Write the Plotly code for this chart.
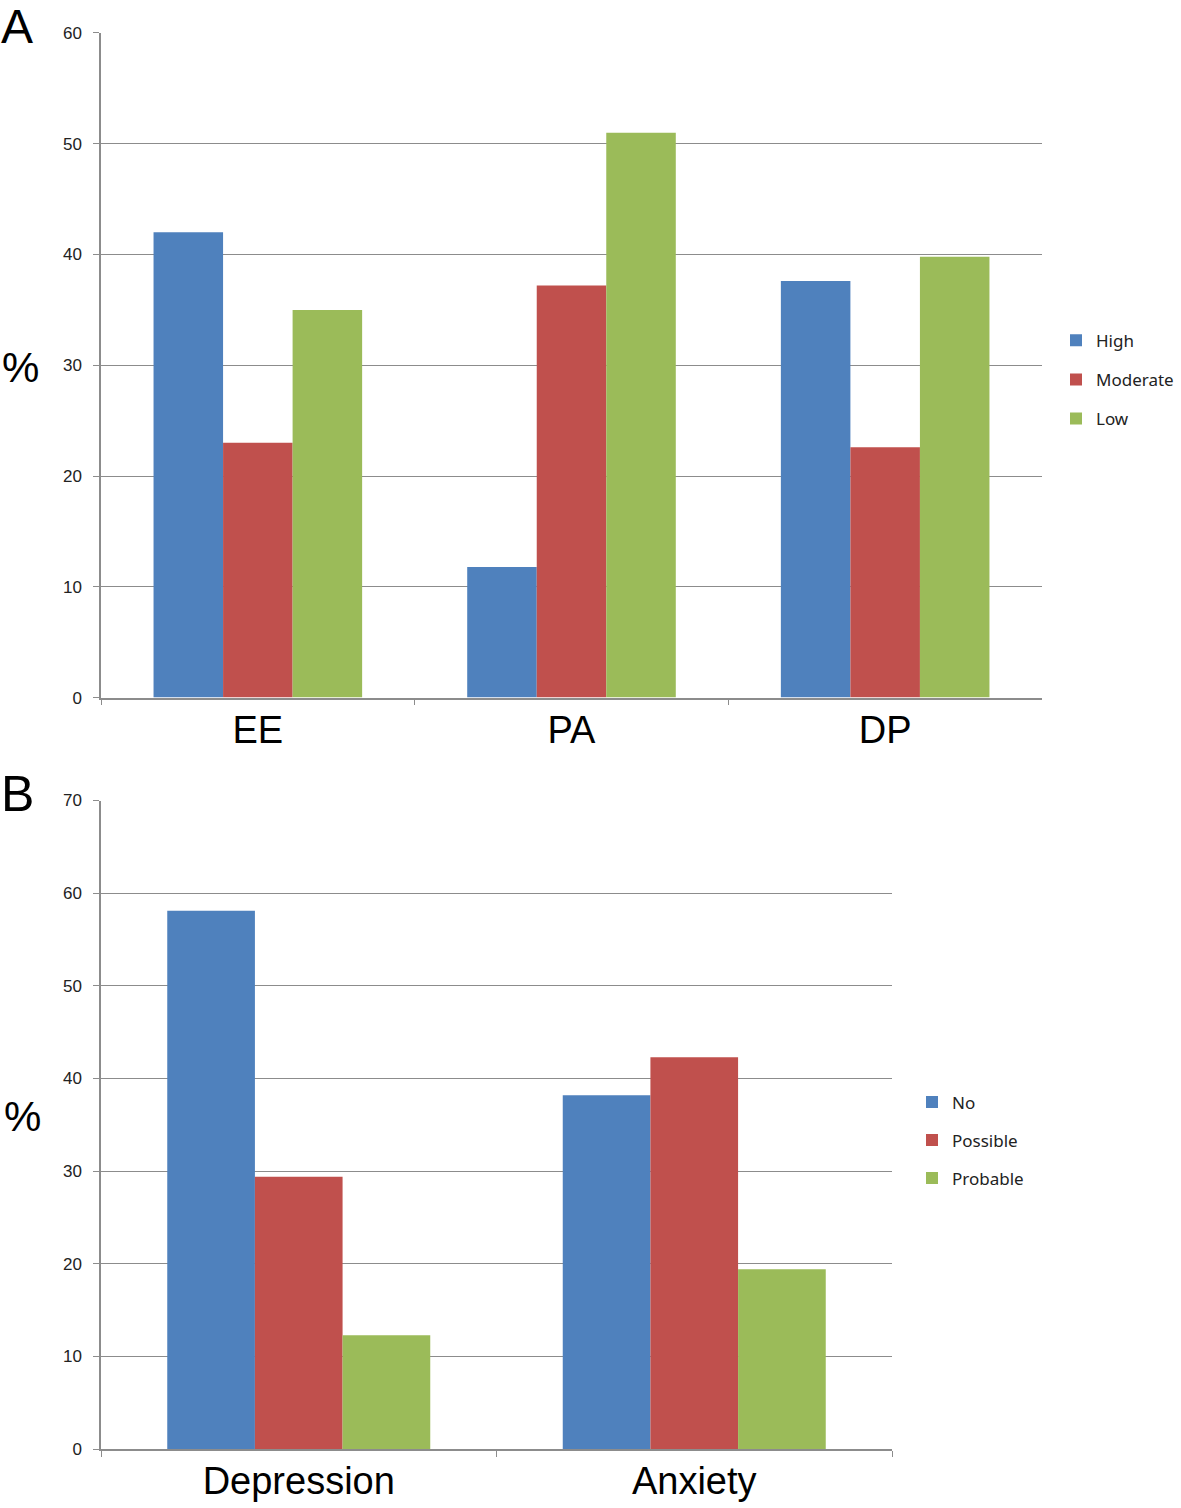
import plotly.graph_objects as go

# Panel A data
cats_a = ["EE", "PA", "DP"]
high = [42.0, 11.8, 37.6]
moderate = [23.0, 37.2, 22.6]
low = [35.0, 51.0, 39.8]
yticks_a = [0, 10, 20, 30, 40, 50, 60]

# Panel B data
cats_b = ["Depression", "Anxiety"]
no = [58.1, 38.2]
possible = [29.4, 42.3]
probable = [12.3, 19.4]
yticks_b = [0, 10, 20, 30, 40, 50, 60, 70]

BLUE = "#4F81BD"
RED = "#C0504D"
GREEN = "#9BBB59"
W, H = 1181, 1508

fig = go.Figure()
for name, vals, col in [("High", high, BLUE), ("Moderate", moderate, RED), ("Low", low, GREEN)]:
    fig.add_trace(go.Bar(x=cats_a, y=vals, name=name, marker=dict(color=col, line=dict(width=0)),
                         xaxis="x", yaxis="y", legend="legend", legendgroup=name))
for name, vals, col in [("No", no, BLUE), ("Possible", possible, RED), ("Probable", probable, GREEN)]:
    fig.add_trace(go.Bar(x=cats_b, y=vals, name=name, marker=dict(color=col, line=dict(width=0)),
                         xaxis="x2", yaxis="y2", legend="legend2", legendgroup=name))

def px_x(x):
    return x / W

def px_y(y):
    # compensate the observed vertical mapping of the capture
    f = (y - 9) / 0.988
    return 1 - f / H

grid = "#8C8C8C"
tickfont = dict(family="Liberation Sans, Arial", size=17, color="#222")
catfont = dict(family="Liberation Sans, Arial", size=38, color="#000")

common_x = dict(type="category", showline=True, linecolor=grid, linewidth=1.5, ticks="outside",
                tickson="boundaries", ticklen=6, tickcolor=grid, showgrid=False, tickfont=catfont,
                fixedrange=True)
common_y = dict(showline=True, linecolor=grid, linewidth=1.5, ticks="outside", ticklen=6,
                tickcolor=grid, showgrid=True, gridcolor=grid, gridwidth=1, tickfont=tickfont,
                zeroline=False, ticklabelstandoff=8, fixedrange=True)

legfont = dict(family="Noto Sans, Open Sans", size=17, color="#222")

fig.update_layout(
    width=W, height=H, margin=dict(l=0, r=0, t=0, b=0),
    paper_bgcolor="white", plot_bgcolor="white",
    bargap=0.335, bargroupgap=0, barmode="group",
    xaxis=dict(domain=[px_x(101), px_x(1042)], anchor="y", ticklabelstandoff=-2, **common_x),
    yaxis=dict(domain=[px_y(698), px_y(33)], anchor="x", range=[0, 60], tickvals=yticks_a, **common_y),
    xaxis2=dict(domain=[px_x(101), px_x(892)], anchor="y2", ticklabelstandoff=-2, **common_x),
    yaxis2=dict(domain=[px_y(1450), px_y(801)], anchor="x2", range=[0, 70], tickvals=yticks_b, **common_y),
    legend=dict(x=px_x(1056), y=px_y(323), xanchor="left", yanchor="top", font=legfont,
                tracegroupgap=14, itemwidth=30, bgcolor="rgba(0,0,0,0)"),
    legend2=dict(x=px_x(912), y=px_y(1085), xanchor="left", yanchor="top", font=legfont,
                 tracegroupgap=13, itemwidth=30, bgcolor="rgba(0,0,0,0)"),
    annotations=[
        dict(text="A", x=px_x(0), y=px_y(27), xref="paper", yref="paper", showarrow=False,
             xanchor="left", yanchor="middle", borderpad=0,
             font=dict(family="Liberation Sans, Arial", size=48, color="#000")),
        dict(text="B", x=px_x(0), y=px_y(794), xref="paper", yref="paper", showarrow=False,
             xanchor="left", yanchor="middle", borderpad=0,
             font=dict(family="Liberation Sans, Arial", size=50, color="#000")),
        dict(text="%", x=px_x(20), y=px_y(368), xref="paper", yref="paper", showarrow=False,
             xanchor="center", yanchor="middle",
             font=dict(family="Liberation Sans, Arial", size=42, color="#000")),
        dict(text="%", x=px_x(22), y=px_y(1117), xref="paper", yref="paper", showarrow=False,
             xanchor="center", yanchor="middle",
             font=dict(family="Liberation Sans, Arial", size=42, color="#000")),
    ],
)

fig.write_html(
    "out.html",
    config={"displayModeBar": False},
    post_script="document.documentElement.style.margin='0';document.body.style.margin='0';"
                "document.body.style.overflow='hidden';",
)
